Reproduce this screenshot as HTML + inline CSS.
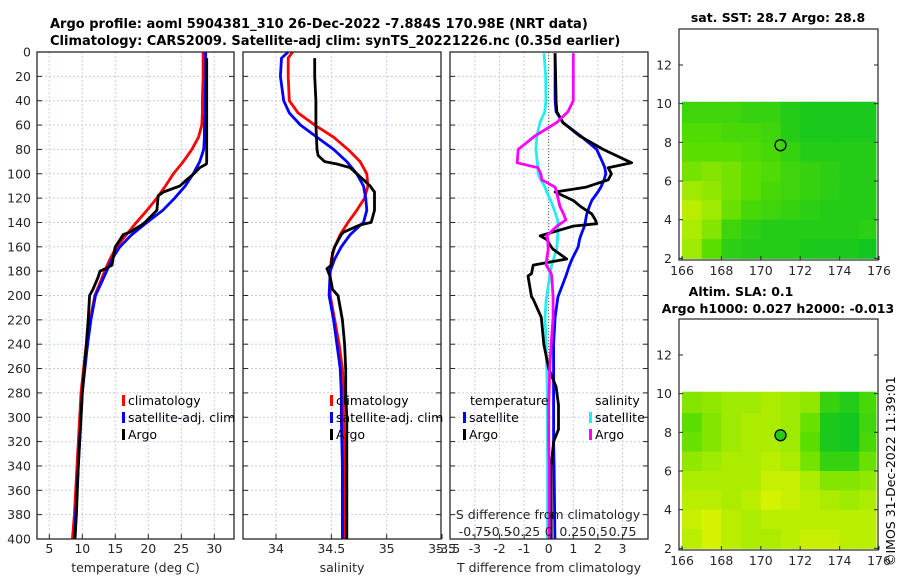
<!DOCTYPE html>
<html><head><meta charset="utf-8"><style>
html,body{margin:0;padding:0;background:#fff;width:900px;height:580px;overflow:hidden}
svg{display:block;font-family:"DejaVu Sans","Liberation Sans",sans-serif}
</style></head><body>
<svg id="fig" width="900" height="580" xmlns="http://www.w3.org/2000/svg">
<text x="50" y="28" font-size="13" font-weight="bold">Argo profile: aoml 5904381_310 26-Dec-2022 -7.884S 170.98E (NRT data)</text>
<text x="50" y="45" font-size="13" font-weight="bold">Climatology: CARS2009. Satellite-adj clim: synTS_20221226.nc (0.35d earlier)</text>
<text x="778" y="22" font-size="12.5" font-weight="bold" text-anchor="middle">sat. SST: 28.7 Argo: 28.8</text>
<text x="741" y="296" font-size="12.5" font-weight="bold" text-anchor="middle">Altim. SLA: 0.1</text>
<text x="778" y="313" font-size="12.5" font-weight="bold" text-anchor="middle">Argo h1000: 0.027 h2000: -0.013</text>
<text transform="translate(895,566) rotate(-90)" font-size="12.5">©IMOS 31-Dec-2022 11:39:01</text>
</svg>
<script>
// ---------- data ----------
const depthClim = [0,5,20,40,50,60,70,80,90,100,110,120,130,140,150,160,170,180,200,220,240,260,280,300,340,380,400];
const tempClim  = [28.3,28.3,28.3,28.2,28.2,28.1,27.6,26.6,25.3,23.8,22.6,21.3,19.8,18.2,16.7,15.2,14.2,13.4,11.9,11.2,10.6,10.2,9.8,9.6,9.2,8.8,8.5];
const tempSat   = [28.7,28.7,28.7,28.6,28.6,28.5,28.5,28.4,27.8,26.8,25.6,24.0,22.2,19.8,17.5,15.7,14.5,13.7,12.0,11.3,10.8,10.4,10.0,9.8,9.4,9.0,8.8];
const salClim   = [34.15,34.11,34.11,34.12,34.2,34.35,34.52,34.65,34.76,34.82,34.83,34.8,34.73,34.65,34.58,34.53,34.5,34.49,34.49,34.53,34.57,34.6,34.61,34.61,34.62,34.62,34.62];
const salSat    = [34.11,34.05,34.04,34.07,34.12,34.22,34.37,34.52,34.64,34.73,34.79,34.81,34.82,34.79,34.67,34.59,34.53,34.49,34.48,34.52,34.55,34.58,34.59,34.59,34.6,34.6,34.6];
const depthArgo = [5,20,40,60,80,85,90,92,95,100,105,110,115,118,130,140,142,148,150,155,160,165,175,178,180,185,190,195,200,220,240,260,280,300,340,380,400];
const tempArgo  = [28.85,28.85,28.85,28.85,28.85,28.85,28.85,28.8,27.8,26.9,25.8,24.8,22.3,21.5,21.3,19.5,19.0,17.2,16.2,15.6,15.0,14.8,14.5,13.5,12.7,12.4,12.0,11.6,11.1,10.9,10.6,10.3,10.0,9.8,9.4,9.1,8.9];
const salArgo   = [34.35,34.35,34.36,34.36,34.37,34.38,34.44,34.55,34.67,34.73,34.79,34.85,34.89,34.89,34.89,34.86,34.76,34.61,34.59,34.56,34.53,34.51,34.5,34.46,34.47,34.49,34.5,34.51,34.56,34.6,34.62,34.63,34.63,34.64,34.64,34.64,34.64];
const depthDiff = [1,20,40,49,58,69,80,91,95,100,105,111,115,122,127,133,138,141,143,151,154,160,162,170,175,182,184,201,203,218,240,260,275,290,310,320,340,400];
const tDiffSat  = [0.26,0.26,0.26,0.3,0.58,1.3,1.95,2.2,2.28,2.32,2.25,2.12,2.0,1.75,1.65,1.55,1.5,1.48,1.45,1.3,1.25,1.2,1.15,0.95,0.85,0.73,0.7,0.38,0.36,0.26,0.2,0.2,0.2,0.2,0.2,0.2,0.22,0.25];
const tDiffArgo = [0.26,0.28,0.3,0.33,0.58,1.26,2.21,3.37,2.42,2.55,2.42,1.53,0.26,1.0,1.3,1.75,1.9,1.95,1.0,-0.35,-0.08,0.1,0.18,0.73,-0.63,-0.7,-0.84,-0.7,-0.63,-0.3,-0.2,0.0,0.3,0.4,0.4,0.2,0.1,0.1];
const sDiffSat  = [-0.048,-0.03,-0.028,-0.04,-0.088,-0.12,-0.13,-0.115,-0.11,-0.108,-0.08,-0.038,-0.02,0.02,0.045,0.07,0.09,0.095,0.095,0.09,0.088,0.083,0.08,0.05,0.03,0.013,0.01,-0.02,-0.025,-0.038,-0.025,-0.02,-0.015,-0.013,-0.012,-0.012,-0.012,-0.012];
const sDiffArgo = [0.25,0.25,0.25,0.195,0.08,-0.14,-0.31,-0.32,-0.11,-0.08,-0.07,0.065,0.08,0.1,0.115,0.15,0.175,0.12,0.083,-0.02,-0.01,-0.005,-0.005,-0.02,-0.025,0.025,0.03,0.045,0.045,0.045,0.025,0.01,0.005,0.0,0.0,0.0,0.005,0.005];
const depthTicks = [0,20,40,60,80,100,120,140,160,180,200,220,240,260,280,300,320,340,360,380,400];
const tempTicks = [5,10,15,20,25,30];
const salTicks = [34,34.5,35,35.5];
const tDiffTicks = [-3,-2,-1,0,1,2,3];
const sDiffTicks = [-0.75,-0.5,-0.25,0,0.25,0.5,0.75];
const sDiffTickLabels = ["-0.75","-0.5","-0.25","0","0.25","0.5","0.75"];
const mapLatTicks = [2,4,6,8,10,12];
const mapLonTicks = [166,168,170,172,174,176];
const sstGrid = [
 [.35,.35,.35,.3,.3,.2,.15,.15,.15,.15],
 [.45,.45,.4,.4,.35,.2,.15,.15,.15,.15],
 [.5,.5,.5,.45,.4,.3,.2,.2,.2,.2],
 [.6,.65,.6,.5,.45,.35,.3,.25,.2,.2],
 [.75,.7,.6,.5,.4,.35,.3,.25,.2,.2],
 [.85,.75,.55,.4,.35,.3,.25,.2,.2,.2],
 [.8,.65,.35,.25,.2,.2,.2,.2,.2,.25],
 [.75,.5,.25,.2,.2,.2,.15,.15,.15,.1]];
const slaGrid = [
 [.65,.7,.75,.75,.8,.75,.7,.3,.2,.4],
 [.5,.65,.75,.8,.8,.75,.55,.15,.1,.35],
 [.55,.65,.75,.8,.8,.75,.5,.15,.1,.4],
 [.7,.75,.8,.8,.85,.8,.6,.3,.3,.55],
 [.8,.8,.8,.8,.9,.9,.8,.65,.65,.7],
 [.85,.85,.8,.85,.95,.9,.85,.8,.75,.8],
 [.9,.95,.85,.8,.85,.85,.85,.85,.85,.85],
 [.85,.95,.85,.8,.8,.85,.9,.9,.85,.85]];
const argoLon = 171.0, argoLat = 7.85;

// ---------- helpers ----------
const NS="http://www.w3.org/2000/svg", svg=document.getElementById('fig');
function mk(tag,attrs,parent){const e=document.createElementNS(NS,tag);for(const k in attrs)e.setAttribute(k,attrs[k]);(parent||svg).appendChild(e);return e;}
function txt(s,x,y,o,parent){const e=mk('text',Object.assign({x:x,y:y,'font-size':12.5,fill:'#262626'},o||{}),parent);e.textContent=s;return e;}
const top0=52, bot0=539;
const yD = d => top0 + d*(bot0-top0)/400;
const panels=[
 {x0:37,x1:234,xs:v=>49.3+(v-5)*6.6,ticks:tempTicks,name:'temperature-panel',label:'temperature (deg C)'},
 {x0:243,x1:441,xs:v=>276+(v-34)*110.7,ticks:salTicks,name:'salinity-panel',label:'salinity'},
 {x0:450,x1:648,xs:v=>548.7+v*24.6,ticks:tDiffTicks,name:'difference-panel',label:'T difference from climatology'}];
panels.forEach((p,i)=>{
 const g=mk('g',{});
 
 
 depthTicks.forEach(d=>{ if(d>0&&d<400) mk('line',{x1:p.x0,x2:p.x1,y1:yD(d),y2:yD(d),stroke:'#c4cdee','stroke-width':1,'stroke-dasharray':'2,2'},g);});
 p.ticks.forEach(t=>{const x=p.xs(t); if(x>p.x0&&x<p.x1) mk('line',{x1:x,x2:x,y1:top0,y2:bot0,stroke:'#c4cdee','stroke-width':1,'stroke-dasharray':'2,2'},g);});
 depthTicks.forEach(d=>{mk('line',{x1:p.x0,x2:p.x0+5,y1:yD(d),y2:yD(d),stroke:'#262626'},g);mk('line',{x1:p.x1,x2:p.x1-5,y1:yD(d),y2:yD(d),stroke:'#262626'},g);});
 p.ticks.forEach(t=>{const x=p.xs(t);mk('line',{x1:x,x2:x,y1:bot0,y2:bot0-5,stroke:'#262626'},g);
   const l=txt(String(t),x,553,{'text-anchor':'middle'},g);
   
   });
 const xt=txt(p.label,(p.x0+p.x1)/2,572,{'text-anchor':'middle'},g);
 
 
 p.g=g;
});
txt('-3.5',448,553,{'text-anchor':'middle'});
depthTicks.forEach(d=>{const l=txt(String(d),31,yD(d)+4.5,{'text-anchor':'end'});
 
 });
mk('line',{x1:panels[2].xs(0),x2:panels[2].xs(0),y1:top0,y2:bot0,stroke:'#556b2f','stroke-width':1,'stroke-dasharray':'1,2'});

function line(depths,vals,xs,color,name,w){
 const pts=depths.map((d,i)=>xs(vals[i]).toFixed(1)+','+yD(d).toFixed(1)).join(' ');
 const e=mk('polyline',{points:pts,fill:'none',stroke:color,'stroke-width':w||2.8,'stroke-linejoin':'round'});
 
 
 return e;
}
const P=panels;
line(depthClim,tempClim,P[0].xs,'#ff0000','temp-climatology-line');
line(depthClim,tempSat,P[0].xs,'#0000ff','temp-satellite-line');
line(depthArgo,tempArgo,P[0].xs,'#000000','temp-argo-line');
line(depthClim,salClim,P[1].xs,'#ff0000','sal-climatology-line');
line(depthClim,salSat,P[1].xs,'#0000ff','sal-satellite-line');
line(depthArgo,salArgo,P[1].xs,'#000000','sal-argo-line');
const sx = s => P[2].xs(s*4);
line(depthDiff,sDiffSat,sx,'#22eeee','s-diff-satellite-line');
line(depthDiff,tDiffSat,P[2].xs,'#0000ff','t-diff-satellite-line');
line(depthDiff,tDiffArgo,P[2].xs,'#000000','t-diff-argo-line');
line(depthDiff,sDiffArgo,sx,'#ff00ff','s-diff-argo-line');
P.forEach(p=>mk('rect',{x:p.x0,y:top0,width:p.x1-p.x0,height:bot0-top0,fill:'none',stroke:'#262626','stroke-width':1.3}));
const st=txt('S difference from climatology',548,519,{'text-anchor':'middle'});


sDiffTicks.forEach((s,i)=>{const l=txt(sDiffTickLabels[i],sx(s),536,{'text-anchor':'middle'});
 
 });
function leg(x,y,color,label,name){
 const g=mk('g',{});
 
 
 mk('rect',{x:x,y:y-10,width:3,height:11,fill:color},g);
 txt(label,x+6,y,{fill:'#000'},g);
}
leg(122,405,'#ff0000','climatology','legend-climatology');
leg(122,422,'#0000ff','satellite-adj. clim','legend-satellite');
leg(122,439,'#000','Argo','legend-argo');
leg(330,405,'#ff0000','climatology','legend-sal-climatology');
leg(330,422,'#0000ff','satellite-adj. clim','legend-sal-satellite');
leg(330,439,'#000','Argo','legend-sal-argo');
txt('temperature',470,405,{fill:'#000'});
leg(463,422,'#0000ff','satellite','legend-t-satellite');
leg(463,439,'#000','Argo','legend-t-argo');
txt('salinity',595,405,{fill:'#000'});
leg(589,422,'#22eeee','satellite','legend-s-satellite');
leg(589,439,'#ff00ff','Argo','legend-s-argo');

// ---------- maps ----------
function col(v){
 const c0=[0,192,40],c1=[90,222,0],c2=[225,245,0];
 let a,b,t; if(v<0.5){a=c0;b=c1;t=v/0.5;}else{a=c1;b=c2;t=(v-0.5)/0.5;}
 return 'rgb('+a.map((x,i)=>Math.round(x+(b[i]-x)*t)).join(',')+')';
}
function map(yTop,grid,name,filled){
 const x0=679,x1=878,yBot=yTop+231;
 const lonX=l=>682+(l-166)*19.7;
 const latY=l=>yTop+(13.86-l)*19.34;
 const g=mk('g',{});
 
 
 grid.forEach((row,r)=>row.forEach((v,c)=>{
   const latHi = r===0?10.1:10-r, latLo=9-r;
   const lx0=Math.max(lonX(166+c),x0+1), lx1=Math.min(lonX(167+c),876);
   const cell=mk('rect',{x:lx0,y:latY(latHi),width:lx1-lx0+0.5,height:latY(latLo)-latY(latHi)+0.5,fill:col(v)},g);
   
   
 }));
 mk('rect',{x:x0,y:yTop,width:x1-x0,height:yBot-yTop,fill:'none',stroke:'#262626','stroke-width':1.2},g);
 mapLatTicks.forEach(l=>{const y=latY(l);mk('line',{x1:x0,x2:x0+4,y1:y,y2:y,stroke:'#262626'},g);mk('line',{x1:x1,x2:x1-4,y1:y,y2:y,stroke:'#262626'},g);
   txt(String(l),672,y+4.5,{'text-anchor':'end'},g);});
 mapLonTicks.forEach(l=>{const x=lonX(l);mk('line',{x1:x,x2:x,y1:yBot,y2:yBot-4,stroke:'#262626'},g);
   txt(String(l),x,yBot+15,{'text-anchor':'middle'},g);});
 const m=mk('circle',{cx:lonX(argoLon),cy:latY(argoLat),r:5.5,fill:filled?col(0.2):'none',stroke:'#000','stroke-width':1.3},g);
 
 
}
map(29,sstGrid,'sst-map',false);
map(319,slaGrid,'sla-map',true);
</script>
</body></html>
